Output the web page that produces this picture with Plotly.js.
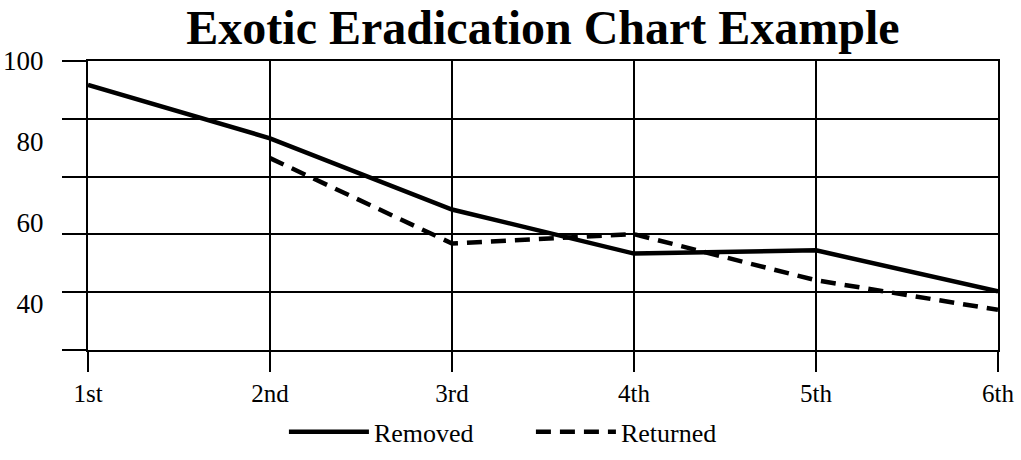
<!DOCTYPE html>
<html>
<head>
<meta charset="utf-8">
<script src="https://cdn.plot.ly/plotly-3.0.1.min.js"></script>
<style>html,body{margin:0;padding:0;background:#fff;}#chart{width:1021px;height:460px;}</style>
</head>
<body>
<div id="chart"></div>
<script>
var categories = ["1st", "2nd", "3rd", "4th", "5th", "6th"];
var removed = [94.1, 80.9, 63.3, 52.4, 53.2, 43.1];
var returned = [null, 76.0, 54.9, 57.2, 45.8, 38.5];
var yLabelVals = [40, 60, 80, 100];
var yLabelText = ["40", "60", "80", "100"];
var yMin = 28.571, yMax = 100;
var gridVals = [100, 85.714, 71.429, 57.143, 42.857, 28.571];

var serif = "Liberation Serif, Times New Roman, serif";

var traces = [
  {x: categories, y: removed, name: "Removed", type: "scatter", mode: "lines",
   line: {color: "#000", width: 4.5}, yaxis: "y"},
  {x: categories, y: returned, name: "Returned", type: "scatter", mode: "lines",
   line: {color: "#000", width: 4.5, dash: "15px,9px"}, yaxis: "y"},
  {x: categories, y: yLabelVals, type: "scatter", mode: "lines", yaxis: "y2",
   line: {color: "rgba(0,0,0,0)", width: 0}, showlegend: false, hoverinfo: "skip"}
];

var layout = {
  width: 1021, height: 460,
  margin: {l: 88, r: 23, t: 61, b: 110},
  paper_bgcolor: "#fff", plot_bgcolor: "#fff",
  font: {family: serif, size: 26, color: "#000"},
  title: {text: "<b>Exotic Eradication Chart Example</b>", font: {family: serif, size: 48, color: "#000"},
          xref: "paper", x: 0.5, xanchor: "center", yref: "container", y: 0.94, yanchor: "middle"},
  xaxis: {type: "category", range: [0, 5], showgrid: true, gridcolor: "#000", gridwidth: 2,
          showline: true, linecolor: "#000", linewidth: 2, mirror: true,
          ticks: "outside", ticklen: 20, tickwidth: 2, tickcolor: "#000",
          tickfont: {family: serif, size: 25, color: "#000"}, zeroline: false, fixedrange: true},
  yaxis: {range: [yMin, yMax], tickmode: "array", tickvals: gridVals, showticklabels: false,
          showgrid: true, gridcolor: "#000", gridwidth: 2,
          showline: true, linecolor: "#000", linewidth: 2, mirror: true,
          ticks: "outside", ticklen: 24, tickwidth: 2, tickcolor: "#000", zeroline: false, fixedrange: true},
  yaxis2: {range: [yMin, yMax], overlaying: "y", side: "left", tickmode: "array",
           tickvals: yLabelVals, ticktext: yLabelText, showgrid: false, showline: false, zeroline: false,
           ticks: "outside", ticklen: 38, tickcolor: "rgba(0,0,0,0)",
           tickfont: {family: serif, size: 27, color: "#000"}, fixedrange: true},
  legend: {orientation: "h", xref: "container", x: 0.52, xanchor: "center", yref: "container", y: 0.01, yanchor: "bottom",
           font: {family: serif, size: 26, color: "#000"}, itemwidth: 80, entrywidth: 152, entrywidthmode: "pixels",
           bgcolor: "rgba(0,0,0,0)"},
  showlegend: true
};

Plotly.newPlot("chart", traces, layout, {displayModeBar: false, staticPlot: true});
</script>
</body>
</html>
